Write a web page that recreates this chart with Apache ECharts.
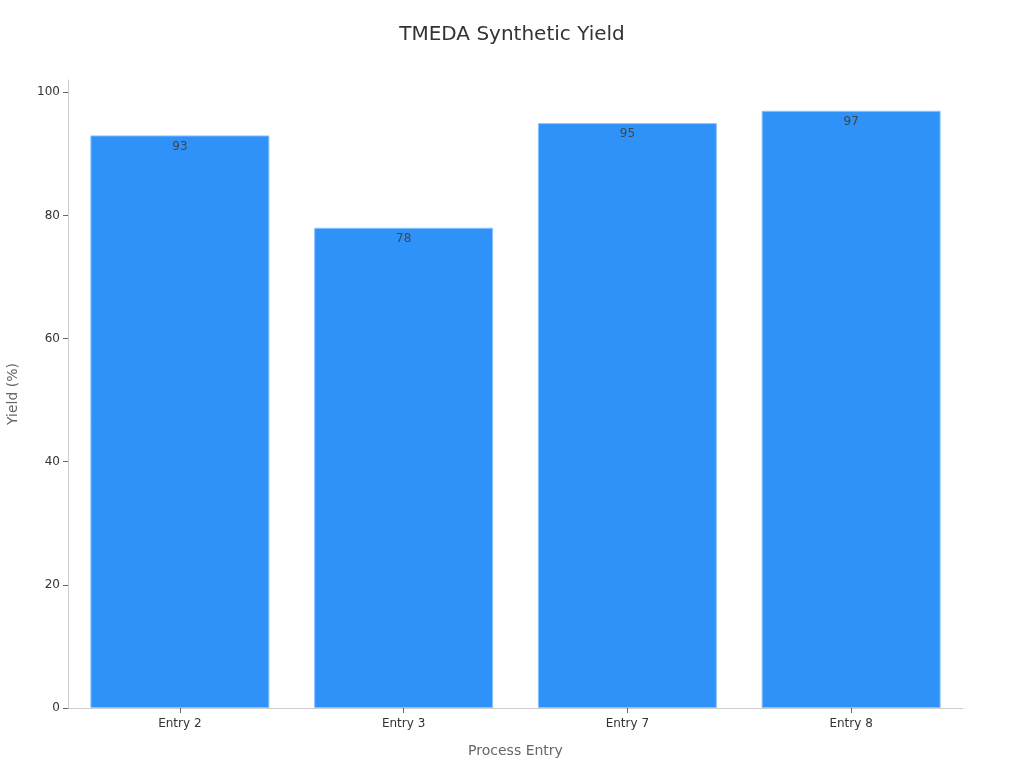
<!DOCTYPE html>
<html>
<head>
<meta charset="utf-8">
<script src="https://cdn.jsdelivr.net/npm/echarts@6/dist/echarts.min.js"></script>
<style>
  html, body { margin: 0; padding: 0; background: #fff; }
  #chart { width: 1024px; height: 768px; }
</style>
</head>
<body>
<div id="chart"></div>
<script>
var categories = ['Entry 2', 'Entry 3', 'Entry 7', 'Entry 8'];
var yields = [93, 78, 95, 97];
var yTicks = [0, 20, 40, 60, 80, 100];

var chart = echarts.init(document.getElementById('chart'));

var option = {
  backgroundColor: '#fff',
  textStyle: { fontFamily: 'DejaVu Sans' },
  title: {
    text: 'TMEDA Synthetic Yield',
    left: 'center',
    top: 20,
    textStyle: { fontSize: 20, fontWeight: 'normal', color: '#333' }
  },
  grid: { left: 68, right: 61, top: 80, bottom: 60, containLabel: false, outerBoundsMode: 'none' },
  xAxis: {
    type: 'category',
    data: categories,
    name: 'Process Entry',
    nameLocation: 'middle',
    nameGap: 36,
    nameTextStyle: { fontSize: 14, color: '#666' },
    axisLine: { lineStyle: { color: '#ccc' } },
    axisTick: { show: true, alignWithLabel: true, length: 5, lineStyle: { color: '#666' } },
    axisLabel: { fontSize: 12, color: '#333', margin: 10 }
  },
  yAxis: {
    type: 'value',
    min: 0,
    max: 102,
    name: 'Yield (%)',
    nameLocation: 'middle',
    nameGap: 48,
    nameTextStyle: { fontSize: 14, color: '#666' },
    axisLine: { show: true, lineStyle: { color: '#ccc' } },
    axisTick: { show: true, customValues: yTicks, lineStyle: { color: '#666' } },
    axisLabel: { fontSize: 12, color: '#333', customValues: yTicks },
    splitLine: { show: false }
  },
  series: [{
    type: 'bar',
    data: yields,
    barCategoryGap: '20%',
    itemStyle: { color: '#2f92f9', borderColor: '#8cc4fb', borderWidth: 1 },
    label: {
      show: true,
      position: 'insideTop',
      color: '#444',
      fontSize: 12
    }
  }]
};

chart.setOption(option);
</script>
</body>
</html>
